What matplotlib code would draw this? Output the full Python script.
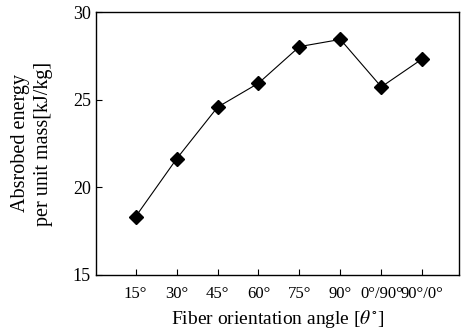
import matplotlib.pyplot as plt

plt.rcParams['font.family'] = ['Liberation Serif', 'DejaVu Serif']
plt.rcParams['mathtext.fontset'] = 'stix'

# Datos
angulos = ['15°', '30°', '45°', '60°', '75°', '90°', '0°/90°', '90°/0°']
energia = [18.32, 21.62, 24.57, 25.94, 28.03, 28.44, 25.73, 27.33]

fig = plt.figure(figsize=(4.61, 3.36), dpi=100)
ax = fig.add_axes([0.208, 0.182, 0.788, 0.782])

x = list(range(len(angulos)))
ax.plot(x, energia, color='black', linewidth=0.8, marker='D', markersize=7)

ax.set_xlim(-0.97, 7.9)
ax.set_ylim(15, 30)
ax.set_yticks([15, 20, 25, 30])
ax.set_xticks(x)
ax.set_xticklabels(angulos, fontsize=12)
ax.tick_params(axis='y', labelsize=13)
ax.tick_params(direction='in', length=4, width=0.8)
ax.tick_params(axis='x', pad=8)

for s in ax.spines.values():
    s.set_linewidth(1.0)

ax.set_xlabel('Fiber orientation angle [$\\theta^{\\circ}$]', fontsize=14)
ax.set_ylabel('Absrobed energy\nper unit mass[kJ/kg]', fontsize=14.5,
              linespacing=1.35, labelpad=14)

fig.savefig('out.png', dpi=100)
plt.close()
